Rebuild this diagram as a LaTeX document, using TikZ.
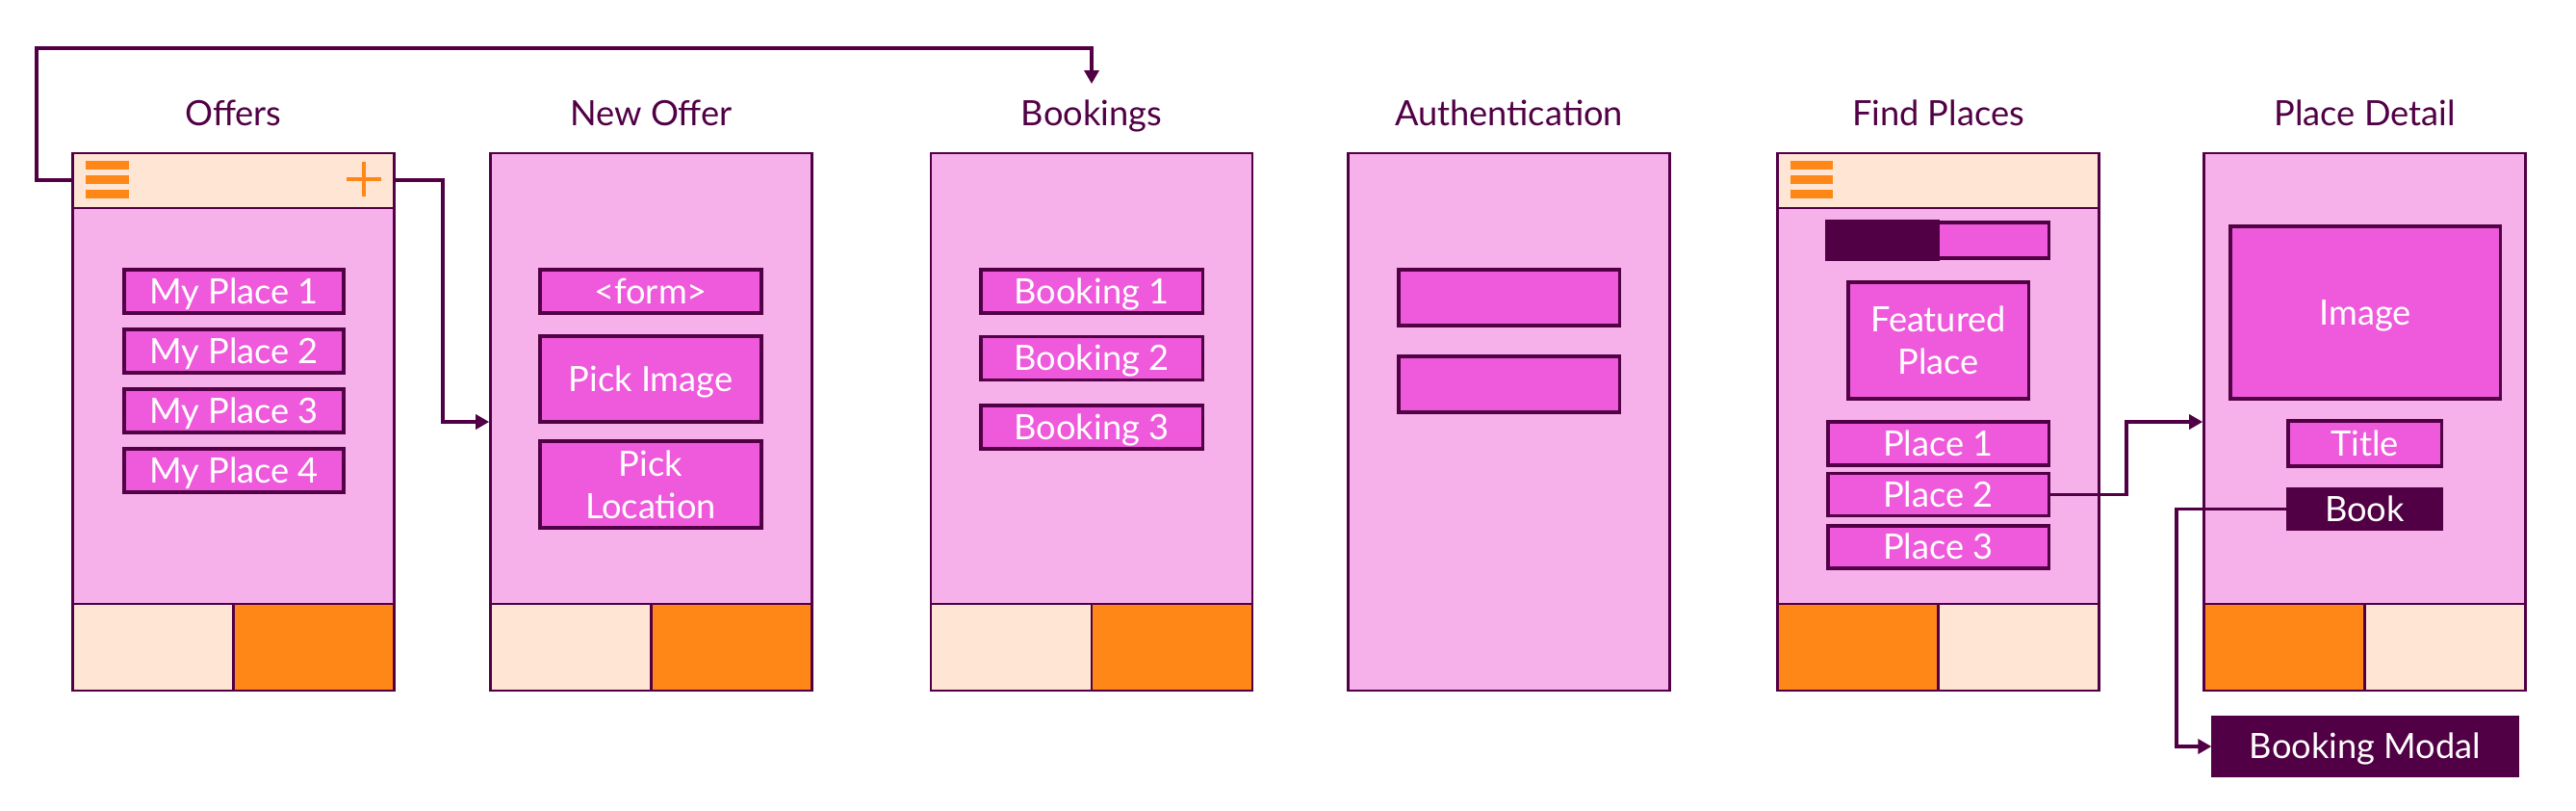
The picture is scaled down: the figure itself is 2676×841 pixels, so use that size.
\documentclass[tikz,border=0pt]{standalone}
\usepackage{fontspec}
\setmainfont{Lato}
\usetikzlibrary{arrows.meta,positioning}
\definecolor{plum}{HTML}{520045}
\definecolor{scrpink}{HTML}{F6B0EA}
\definecolor{itemmag}{HTML}{EE5ADB}
\definecolor{peach}{HTML}{FFE5D3}
\definecolor{tabor}{HTML}{FF8717}
\begin{document}
\begin{tikzpicture}[x=0.01cm,y=-0.01cm,
  phone/.style={draw=plum,fill=scrpink,line width=0.7pt,minimum width=3.34cm,minimum height=5.58cm,inner sep=0pt},
  bar/.style={draw=plum,fill=peach,line width=0.7pt,minimum width=3.34cm,minimum height=0.57cm,inner sep=0pt},
  tab/.style={draw=plum,line width=0.7pt,minimum width=1.67cm,minimum height=0.9cm,inner sep=0pt},
  item/.style={draw=plum,fill=itemmag,line width=0.9pt,text=white,inner sep=0pt,align=center,font=\fontsize{10.3}{12.5}\selectfont},
  one/.style={item,text height=0.72em,text depth=0pt},
  title/.style={text=plum,anchor=base,font=\fontsize{10.3}{12}\selectfont},
  link/.style={draw=plum,line width=1.1pt,-{Triangle[length=1.4mm,width=1.5mm]}}]
\useasboundingbox (0,0) rectangle (2676,841);
\fill[white] (0,0) rectangle (2676,841);
% screens
\node[phone] (pOffers) at (242.5,438) {};
\node[phone] (pNew) at (676.5,438) {};
\node[phone] (pBook) at (1134,438) {};
\node[phone] (pAuth) at (1567.5,438) {};
\node[phone] (pFind) at (2013.5,438) {};
\node[phone] (pDetail) at (2456.5,438) {};
\node[title] (tOffers) at (242.5,130) {Offers};
\node[title] (tNew) at (676.5,130) {New Offer};
\node[title] (tBook) at (1134,130) {Bookings};
\node[title] (tAuth) at (1567.5,130) {Authentication};
\node[title] (tFind) at (2013.5,130) {Find Places};
\node[title] (tDetail) at (2456.5,130) {Place Detail};
% top bars
\node[bar,anchor=north] (hOffers) at (pOffers.north) {};
\node[bar,anchor=north] (hFind) at (pFind.north) {};
\fill[tabor] (89,167) rectangle (134,176);
\fill[tabor] (89,182) rectangle (134,191);
\fill[tabor] (89,197) rectangle (134,206);
\draw[tabor,line width=1.4pt] (360,186) -- (396,186) (378,168) -- (378,204);
\fill[tabor] (1860,167) rectangle (1904,176);
\fill[tabor] (1860,182) rectangle (1904,191);
\fill[tabor] (1860,197) rectangle (1904,206);
% tab bars
\node[tab,fill=peach,anchor=south west] (fOffersL) at (pOffers.south west) {};
\node[tab,fill=tabor,anchor=south east] (fOffersR) at (pOffers.south east) {};
\node[tab,fill=peach,anchor=south west] (fNewL) at (pNew.south west) {};
\node[tab,fill=tabor,anchor=south east] (fNewR) at (pNew.south east) {};
\node[tab,fill=peach,anchor=south west] (fBookL) at (pBook.south west) {};
\node[tab,fill=tabor,anchor=south east] (fBookR) at (pBook.south east) {};
\node[tab,fill=tabor,anchor=south west] (fFindL) at (pFind.south west) {};
\node[tab,fill=peach,anchor=south east] (fFindR) at (pFind.south east) {};
\node[tab,fill=tabor,anchor=south west] (fDetailL) at (pDetail.south west) {};
\node[tab,fill=peach,anchor=south east] (fDetailR) at (pDetail.south east) {};
% Offers
\node[one,minimum width=2.28cm,minimum height=0.45cm] (my1) at (243,302.5) {My Place 1};
\node[one,minimum width=2.28cm,minimum height=0.45cm] (my2) at (243,364.5) {My Place 2};
\node[one,minimum width=2.28cm,minimum height=0.45cm] (my3) at (243,426.5) {My Place 3};
\node[one,minimum width=2.28cm,minimum height=0.45cm] (my4) at (243,488.5) {My Place 4};
% New Offer
\node[one,minimum width=2.3cm,minimum height=0.45cm] (form) at (676,302.5) {<form>};
\node[one,minimum width=2.3cm,minimum height=0.89cm] (pickImg) at (676,393.5) {Pick Image};
\node[item,minimum width=2.3cm,minimum height=0.9cm] (pickLoc) at (676,503) {Pick\\Location};
% Bookings
\node[one,minimum width=2.3cm,minimum height=0.45cm] (bk1) at (1134,302.5) {Booking 1};
\node[one,minimum width=2.3cm,minimum height=0.45cm] (bk2) at (1134,372) {Booking 2};
\node[one,minimum width=2.3cm,minimum height=0.45cm] (bk3) at (1134,443.5) {Booking 3};
% Authentication
\node[item,minimum width=2.29cm,minimum height=0.58cm] (auth1) at (1567.5,309) {};
\node[item,minimum width=2.29cm,minimum height=0.58cm] (auth2) at (1567.5,399) {};
% Find Places
\node[item,minimum width=2.29cm,minimum height=0.37cm] (seg) at (2013.5,249.5) {};
\draw[plum,fill=plum,line width=0.9pt] (seg.north west) rectangle (seg.south);
\node[item,minimum width=1.87cm,minimum height=1.21cm] (feat) at (2013.5,353.5) {Featured\\Place};
\node[one,minimum width=2.29cm,minimum height=0.45cm] (pl1) at (2013.5,460.5) {Place 1};
\node[one,minimum width=2.29cm,minimum height=0.44cm] (pl2) at (2013.5,513.5) {Place 2};
\node[one,minimum width=2.29cm,minimum height=0.44cm] (pl3) at (2013.5,568) {Place 3};
% Place Detail
\node[one,minimum width=2.8cm,minimum height=1.79cm] (img) at (2457,324.5) {Image};
\node[one,minimum width=1.59cm,minimum height=0.47cm] (ttl) at (2456.5,460.5) {Title};
\node[one,fill=plum,minimum width=1.59cm,minimum height=0.41cm] (book) at (2456.5,528.5) {Book};
\node[one,fill=plum,minimum width=3.16cm,minimum height=0.6cm] (modal) at (2457,775) {Booking Modal};
% links
\coordinate (bkIn) at (1134,87);
\draw[link] (hOffers.west) -- ++(-36,0) |- ([yshift=0.37cm]bkIn) -- (bkIn);
\draw[link] (hOffers.east) -- ++(49,0) |- (pNew.west);
\draw[link] (pl2.east) -- ++(79,0) |- (pDetail.west);
\draw[link] (book.west) -- ++(-114,0) |- (modal.west);
\end{tikzpicture}
\end{document}
